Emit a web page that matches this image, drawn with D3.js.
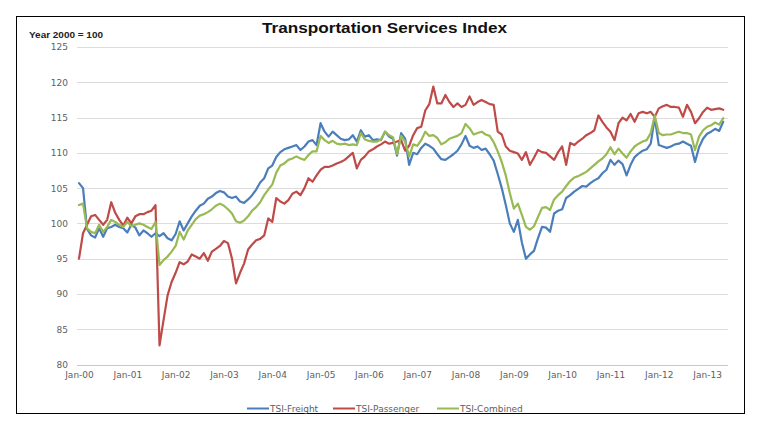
<!DOCTYPE html>
<html>
<head>
<meta charset="utf-8">
<script src="https://cdn.jsdelivr.net/npm/d3@7"></script>
<style>
  html, body { margin: 0; padding: 0; background: #fff; }
  svg { display: block; }
</style>
</head>
<body>
<svg id="chart" width="767" height="425"></svg>
<script>
// ---- Data (monthly, Jan-2000 .. May-2013) ----
const startYear = 2000;
const seriesNames = ["TSI-Freight", "TSI-Passenger", "TSI-Combined"];
const yTicks = [80, 85, 90, 95, 100, 105, 110, 115, 120, 125];
const xTickLabels = ["Jan-00","Jan-01","Jan-02","Jan-03","Jan-04","Jan-05","Jan-06","Jan-07","Jan-08","Jan-09","Jan-10","Jan-11","Jan-12","Jan-13"];

const freight = [
  105.7, 105.0, 99.2, 98.3, 98.0, 99.3, 98.1, 99.3, 99.5, 99.8, 99.5, 99.3,
  98.7, 99.8, 99.4, 98.3, 99.0, 98.6, 98.1, 98.6, 98.2, 98.6, 97.9, 97.6,
  98.5, 100.3, 99.0, 100.0, 101.0, 101.8, 102.5, 102.8, 103.5, 103.8, 104.3, 104.6,
  104.4, 103.8, 103.6, 103.8, 103.1, 102.9, 103.4, 104.0, 104.8, 105.8, 106.4, 107.8,
  108.2, 109.4, 110.1, 110.5, 110.7, 110.9, 111.1, 110.4, 110.9, 111.6, 111.8, 111.1,
  114.2, 113.0, 112.3, 113.0, 112.5, 112.0, 111.8, 111.9, 112.5, 111.6, 113.2, 112.3,
  112.5, 111.8, 111.9, 111.8, 113.0, 112.3, 112.0, 109.6, 112.8, 112.0, 108.3, 110.0,
  109.8, 110.7, 111.3, 111.0, 110.6, 109.8, 109.1, 109.0, 109.4, 109.8, 110.3, 111.2,
  112.4, 111.0, 110.7, 110.9, 110.4, 110.6, 109.8, 108.9, 107.0, 105.0, 102.6, 100.0,
  98.8, 100.5, 97.3, 95.0, 95.6, 96.1, 97.9, 99.5, 99.4, 98.8, 101.4, 101.8,
  102.0, 103.6, 104.0, 104.5, 104.9, 105.3, 105.2, 105.7, 106.1, 106.4, 107.1, 107.6,
  109.0, 108.3, 108.9, 108.4, 106.8, 108.3, 109.4, 109.9, 110.3, 110.5, 111.3, 115.0,
  111.1, 110.9, 110.7, 110.9, 111.2, 111.3, 111.6, 111.3, 111.0, 108.7, 110.8, 112.0,
  112.7, 113.0, 113.4, 113.1, 114.4
];
const passenger = [
  95.0, 98.6, 99.8, 101.0, 101.2, 100.5, 99.8, 100.5, 103.0, 101.5, 100.5, 99.7,
  100.8, 100.0, 101.0, 101.3, 101.3, 101.6, 101.8, 102.6, 82.7, 86.3, 89.8, 91.7,
  93.0, 94.5, 94.2, 94.6, 95.6, 95.3, 95.0, 95.8, 94.7, 96.0, 96.4, 96.8,
  97.5, 97.2, 95.0, 91.5, 93.0, 94.3, 96.3, 97.0, 97.6, 97.8, 98.3, 100.7,
  100.2, 103.6, 103.1, 102.8, 103.3, 104.2, 104.5, 104.0, 105.0, 106.4, 105.9, 106.8,
  107.6, 108.0, 108.0, 108.2, 108.5, 108.7, 109.0, 109.5, 110.0, 107.8, 109.0, 109.5,
  110.2, 110.5, 110.9, 111.2, 111.6, 111.3, 111.4, 111.6, 111.8, 110.3, 111.0, 112.5,
  113.5, 113.7, 116.0, 116.9, 119.4, 117.0, 117.0, 118.2, 117.2, 116.5, 117.0, 116.5,
  116.8, 118.0, 116.8, 117.2, 117.5, 117.2, 116.9, 116.8, 113.0, 112.6, 110.9, 110.3,
  110.1, 109.9, 109.0, 110.1, 108.3, 109.3, 110.4, 110.1, 110.0, 109.5, 109.0, 110.1,
  110.9, 108.3, 111.4, 111.1, 111.6, 112.0, 112.5, 112.8, 113.2, 115.3, 114.4, 113.6,
  113.0, 111.8, 114.2, 115.0, 114.6, 115.5, 114.4, 115.6, 115.8, 115.6, 115.8, 115.1,
  116.3, 116.6, 116.8, 116.5, 116.5, 116.4, 115.1, 116.8, 115.8, 114.2, 114.9, 115.8,
  116.4, 116.1, 116.2, 116.3, 116.1
];
const combined = [
  102.6, 102.8, 99.3, 98.8, 98.6, 99.8, 98.8, 99.5, 100.5, 100.2, 99.8, 99.5,
  100.2, 99.6, 99.8, 100.0, 99.8, 99.5, 99.2, 100.2, 94.1, 94.8, 95.3, 96.0,
  96.8, 98.8, 97.7, 99.0, 99.8, 100.6, 101.1, 101.3, 101.6, 102.0, 102.5, 102.8,
  102.5, 102.0, 101.4, 100.3, 100.1, 100.4, 101.0, 101.8, 102.3, 103.0, 104.0, 104.8,
  105.5, 107.2, 108.2, 108.5, 109.0, 109.2, 109.5, 109.2, 109.0, 109.7, 110.2, 110.2,
  112.4, 111.8, 111.4, 111.7, 111.3, 111.2, 111.3, 111.1, 111.2, 111.1, 112.8, 111.9,
  111.7, 111.6, 111.6, 111.9, 113.0, 112.5, 112.2, 109.8, 112.4, 111.6, 109.5, 111.2,
  111.0, 111.8, 113.0, 112.4, 112.5, 112.1, 111.2, 111.5, 112.0, 112.2, 112.4, 112.8,
  114.1, 113.5, 112.6, 112.8, 113.0, 112.6, 112.4, 111.5, 110.2, 108.7, 106.8, 104.3,
  102.1, 102.8, 101.2, 99.5, 99.1, 99.6, 100.9, 102.2, 102.3, 101.9, 103.4, 104.0,
  104.5, 105.3, 106.0, 106.5, 106.7, 107.0, 107.3, 107.8, 108.3, 108.8, 109.2, 109.8,
  110.8, 109.8, 110.6, 109.9, 109.3, 110.2, 110.9, 111.3, 111.6, 111.8, 112.8, 115.3,
  112.8, 112.5, 112.6, 112.6, 112.8, 113.0, 112.8, 112.8, 112.6, 110.4, 112.3, 113.2,
  113.7, 113.9, 114.3, 114.0, 114.9
];
const colors = ["#4A7EBB", "#BE4B48", "#98B954"];

// ---- Chart ----
const svg = d3.select("#chart");
const W = 767, H = 425;
svg.append("rect").attr("x", 0).attr("y", 0).attr("width", W).attr("height", H).attr("fill", "#fff");
svg.append("rect").attr("x", 16.5).attr("y", 16.5).attr("width", 728).attr("height", 397)
  .attr("fill", "none").attr("stroke", "#000").attr("stroke-width", 1);

const n = freight.length;
const x = d3.scaleLinear().domain([0, n - 1]).range([79, 723.2]);
const y = d3.scaleLinear().domain([80, 125]).range([364.5, 47]);
const gridX0 = 77, gridX1 = 728;

// grid lines
svg.append("g").selectAll("line").data(yTicks).join("line")
  .attr("x1", gridX0).attr("x2", gridX1)
  .attr("y1", d => Math.round(y(d)) + 0.5).attr("y2", d => Math.round(y(d)) + 0.5)
  .attr("stroke", d => d === 80 ? "#C8C8C8" : "#DCDCDC").attr("stroke-width", 1);

const tickFont = "'DejaVu Sans', sans-serif";
// y axis labels
const yAxis = d3.axisLeft(y).tickValues(yTicks).tickSize(0).tickPadding(0);
const gy = svg.append("g").attr("transform", "translate(68,0)").call(yAxis);
gy.select(".domain").remove();
gy.selectAll("text").attr("font-family", tickFont).attr("font-size", 9).attr("fill", "#606060");

// x axis labels
const xAxis = d3.axisBottom(x).tickValues(xTickLabels.map((d, i) => i * 12))
  .tickFormat((d, i) => xTickLabels[i]).tickSize(0).tickPadding(0);
const gx = svg.append("g").attr("transform", "translate(0,372)").call(xAxis);
gx.select(".domain").remove();
gx.selectAll("text").attr("font-family", tickFont).attr("font-size", 9).attr("fill", "#606060");

// lines
const line = d3.line().x((d, i) => x(i)).y(d => y(d)).curve(d3.curveLinear);
[freight, passenger, combined].forEach((s, k) => {
  svg.append("path").datum(s).attr("d", line)
    .attr("fill", "none").attr("stroke", colors[k]).attr("stroke-width", 2.2)
    .attr("stroke-linejoin", "round").attr("stroke-linecap", "round");
});

// title
svg.append("text").attr("x", 262).attr("y", 33)
  .attr("font-family", "'Liberation Sans', Arial, sans-serif").attr("font-weight", "bold")
  .attr("font-size", 15).attr("fill", "#111")
  .attr("textLength", 245).attr("lengthAdjust", "spacingAndGlyphs")
  .text("Transportation Services Index");

svg.append("text").attr("x", 29).attr("y", 38)
  .attr("font-family", "'Liberation Sans', Arial, sans-serif").attr("font-weight", "bold")
  .attr("font-size", 8.5).attr("fill", "#222")
  .attr("textLength", 74).attr("lengthAdjust", "spacingAndGlyphs")
  .text("Year 2000 = 100");

// legend
const legendX = [247, 333, 437];
const lg = svg.append("g");
seriesNames.forEach((name, k) => {
  lg.append("line").attr("x1", legendX[k]).attr("x2", legendX[k] + 22)
    .attr("y1", 408.5).attr("y2", 408.5).attr("stroke", colors[k]).attr("stroke-width", 2);
  lg.append("text").attr("x", legendX[k] + 23).attr("y", 412)
    .attr("font-family", tickFont).attr("font-size", 9).attr("fill", "#606060").text(name);
});
</script>
</body>
</html>
